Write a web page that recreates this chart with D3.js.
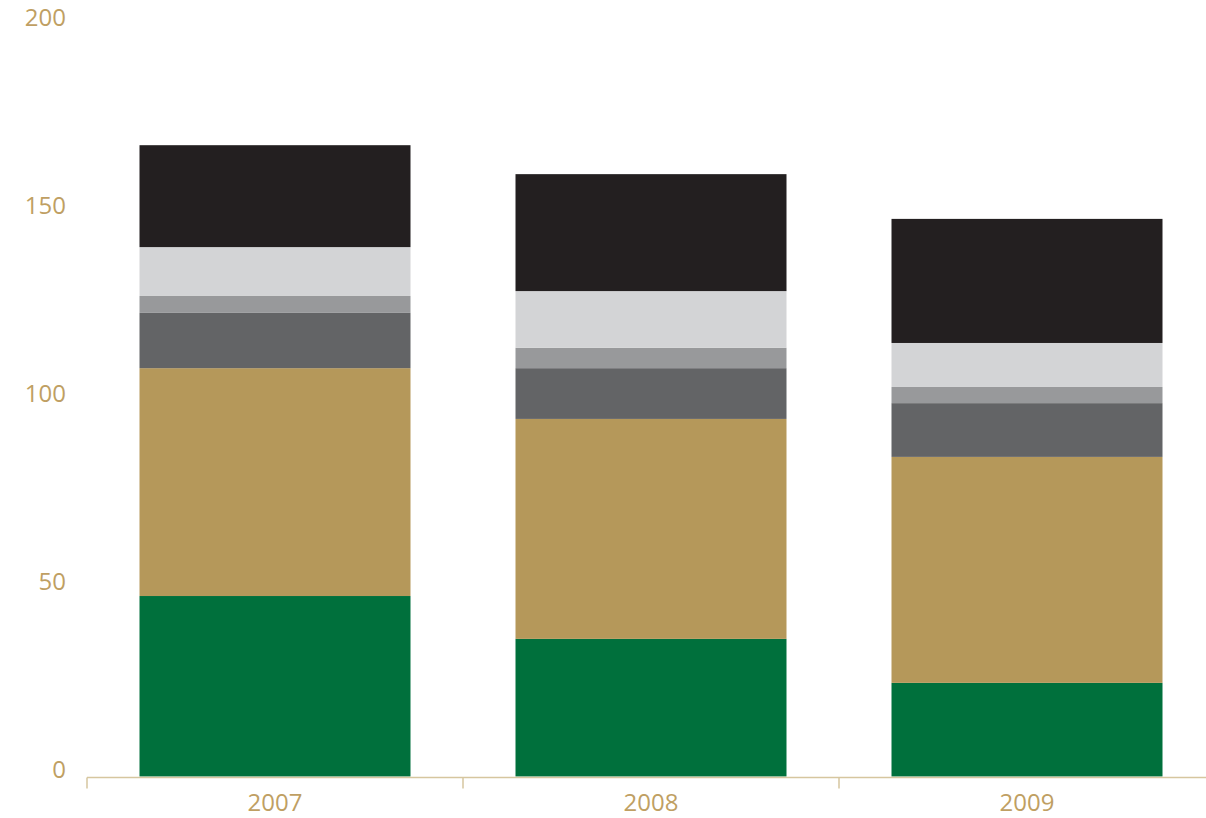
<!DOCTYPE html>
<html>
<head>
<meta charset="utf-8">
<script src="https://cdn.jsdelivr.net/npm/d3@7"></script>
<style>
  body { margin: 0; background: #fff; }
  svg { display: block; font-family: "Open Sans", sans-serif; }
</style>
</head>
<body>
<svg id="chart"></svg>
<script>
const years = ["2007", "2008", "2009"];
const seriesNames = ["green", "gold", "darkgray", "midgray", "lightgray", "black"];
const green = [48.0, 36.6, 24.9];
const gold = [60.6, 58.5, 60.1];
const darkgray = [14.7, 13.5, 14.3];
const midgray = [4.5, 5.4, 4.3];
const lightgray = [13.0, 15.1, 11.7];
const black = [27.1, 31.1, 33.0];
const yTicks = [0, 50, 100, 150, 200];

const colors = {
  green: "#00703c",
  gold: "#b5985a",
  darkgray: "#636466",
  midgray: "#98999b",
  lightgray: "#d3d4d6",
  black: "#231f20"
};

const width = 1206;
const height = 818;
const margin = { top: 24.5, right: 0, bottom: 41.5, left: 87 };

const svg = d3.select("#chart")
  .attr("width", width)
  .attr("height", height);

const values = { green, gold, darkgray, midgray, lightgray, black };
const table = years.map((y, i) => {
  const row = { year: y };
  seriesNames.forEach(s => row[s] = values[s][i]);
  return row;
});

const stacked = d3.stack().keys(seriesNames)(table);

const x = d3.scaleBand()
  .domain(years)
  .range([margin.left, margin.left + 3 * 376])
  .paddingInner(105 / 376)
  .paddingOuter(52.5 / 376);

const y = d3.scaleLinear()
  .domain([0, 200])
  .range([height - margin.bottom, margin.top]);

svg.append("g")
  .selectAll("g")
  .data(stacked)
  .enter()
  .append("g")
  .attr("fill", d => colors[d.key])
  .selectAll("rect")
  .data(d => d)
  .enter()
  .append("rect")
  .attr("x", d => x(d.data.year))
  .attr("width", x.bandwidth())
  .attr("y", d => y(d[1]))
  .attr("height", d => y(d[0]) - y(d[1]));

// y labels (no axis line)
svg.append("g")
  .selectAll("text")
  .data(yTicks)
  .enter()
  .append("text")
  .attr("x", 66)
  .attr("y", d => y(d) - 6.5)
  .attr("dy", "0.35em")
  .attr("text-anchor", "end")
  .attr("fill", "#bf9f63")
  .style("font-size", "24px")
  .text(d => d);

// x axis
const axisY = y(0);
const step = x.step();
const tickXs = d3.range(years.length + 1).map(i => margin.left + i * step);

svg.append("line")
  .attr("x1", margin.left)
  .attr("x2", margin.left + 3 * step)
  .attr("y1", axisY + 1)
  .attr("y2", axisY + 1)
  .attr("stroke", "#d6c69f")
  .attr("stroke-width", 1.5);

svg.append("g")
  .selectAll("line")
  .data(tickXs)
  .enter()
  .append("line")
  .attr("x1", d => d)
  .attr("x2", d => d)
  .attr("y1", axisY + 1)
  .attr("y2", axisY + 12)
  .attr("stroke", "#d6c69f")
  .attr("stroke-width", 1.5);

svg.append("g")
  .selectAll("text")
  .data(years)
  .enter()
  .append("text")
  .attr("x", d => x(d) + x.bandwidth() / 2)
  .attr("y", 802.5)
  .attr("dy", "0.35em")
  .attr("text-anchor", "middle")
  .attr("fill", "#bf9f63")
  .style("font-size", "24px")
  .text(d => d);
</script>
</body>
</html>
